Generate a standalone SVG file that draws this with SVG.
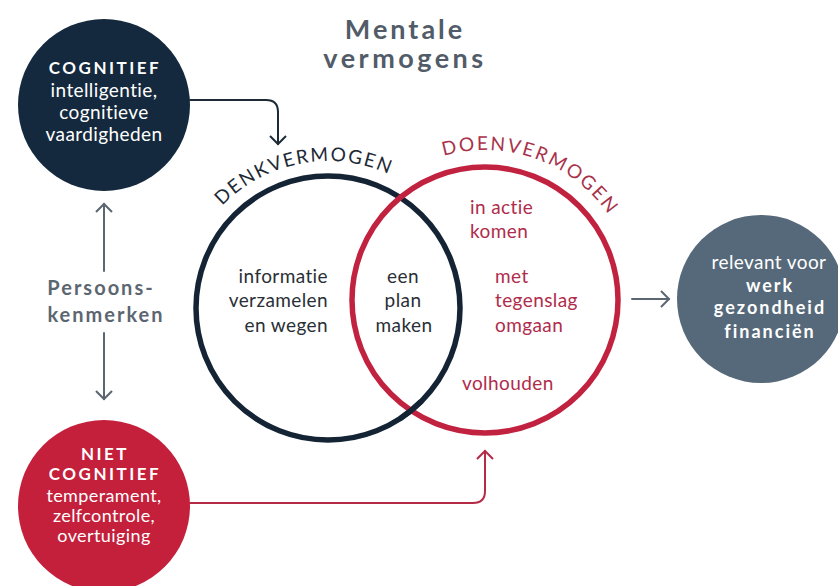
<svg xmlns="http://www.w3.org/2000/svg" width="838" height="586" viewBox="0 0 838 586">
<style>
.body{font-family:Lato,"Open Sans","Liberation Sans",sans-serif;font-size:19px;letter-spacing:0.4px}
.small{font-size:18px}
.head{font-family:Lato,"Open Sans","Liberation Sans",sans-serif;font-weight:bold;font-size:17px;letter-spacing:2.5px}
.white{fill:#ffffff}
.dark{fill:#2a2f37}
.red{fill:#b02c4c}
.arc{font-family:Lato,"Open Sans","Liberation Sans",sans-serif;font-size:19px}
.conn{fill:none;stroke-width:2;stroke-linecap:round;stroke-linejoin:round}
.big{font-family:Lato,"Open Sans","Liberation Sans",sans-serif;font-weight:bold}
</style>
<defs>
<marker id="aDark" viewBox="0 0 12 18" refX="10" refY="9" markerWidth="12" markerHeight="18" markerUnits="userSpaceOnUse" orient="auto">
<path d="M2,1 L10,9 L2,17" fill="none" stroke="#1e2a36" stroke-width="2"/>
</marker>
<marker id="aGray" viewBox="0 0 12 18" refX="10" refY="9" markerWidth="12" markerHeight="18" markerUnits="userSpaceOnUse" orient="auto">
<path d="M2,1 L10,9 L2,17" fill="none" stroke="#5c6670" stroke-width="2"/>
</marker>
<marker id="aRed" viewBox="0 0 12 18" refX="10" refY="9" markerWidth="12" markerHeight="18" markerUnits="userSpaceOnUse" orient="auto">
<path d="M2,1 L10,9 L2,17" fill="none" stroke="#b52a45" stroke-width="2"/>
</marker>
<path id="denkArc" d="M222.3,205.9 A147,147 0 0 1 392.4,175.9"/>
<path id="doenArc" d="M443.7,155.8 A150,150 0 0 1 610.8,218.3"/>
</defs>
<rect width="838" height="586" fill="#ffffff"/>

<g id="title">
<text class="big" x="405" y="39" text-anchor="middle" font-size="27" letter-spacing="3" fill="#515c68">Mentale</text>
<text class="big" x="405" y="68" text-anchor="middle" font-size="27" letter-spacing="3.5" fill="#515c68">vermogens</text>
</g>

<g id="connectors">
<path class="conn" stroke="#1e2a36" d="M190,100 H266 Q278,100 278,112 V144" marker-end="url(#aDark)"/>
<path class="conn" stroke="#5c6670" d="M104,271 V204" marker-end="url(#aGray)"/>
<path class="conn" stroke="#5c6670" d="M104,333 V399" marker-end="url(#aGray)"/>
<path class="conn" stroke="#b52a45" d="M190,503 H473 Q485,503 485,491 V451" marker-end="url(#aRed)"/>
<path class="conn" stroke="#5c6670" d="M632,299 H669" marker-end="url(#aGray)"/>
</g>

<g id="cognitief">
<circle cx="104" cy="105" r="86" fill="#14293d"/>
<text class="head white" x="105" y="74" text-anchor="middle">COGNITIEF</text>
<text class="body white" x="104" y="97" text-anchor="middle">intelligentie,</text>
<text class="body white" x="104" y="119" text-anchor="middle">cognitieve</text>
<text class="body white" x="104" y="141" text-anchor="middle">vaardigheden</text>
</g>

<g id="persoonskenmerken">
<text class="big" x="101" y="295" text-anchor="middle" font-size="20" letter-spacing="2" fill="#5c6670">Persoons-</text>
<text class="big" x="106" y="322" text-anchor="middle" font-size="20" letter-spacing="2" fill="#5c6670">kenmerken</text>
</g>

<g id="niet-cognitief">
<circle cx="104" cy="506" r="86" fill="#c41f3b"/>
<text class="head white" x="105" y="460" text-anchor="middle">NIET</text>
<text class="head white" x="105" y="480" text-anchor="middle">COGNITIEF</text>
<text class="body small white" x="104" y="502" text-anchor="middle">temperament,</text>
<text class="body small white" x="104" y="522" text-anchor="middle">zelfcontrole,</text>
<text class="body small white" x="104" y="542" text-anchor="middle">overtuiging</text>
</g>

<g id="denkvermogen">
<circle cx="328" cy="308" r="132" fill="none" stroke="#142435" stroke-width="5.5"/>
<text class="arc" fill="#1e2a36"><textPath href="#denkArc" textLength="180" lengthAdjust="spacing">DENKVERMOGEN</textPath></text>
<text class="body dark" x="328" y="283" text-anchor="end">informatie</text>
<text class="body dark" x="328" y="307" text-anchor="end">verzamelen</text>
<text class="body dark" x="328" y="332" text-anchor="end">en wegen</text>
</g>

<g id="doenvermogen">
<circle cx="485" cy="300" r="133" fill="none" stroke="#c0223f" stroke-width="5.5"/>
<text class="arc" fill="#a8324a"><textPath href="#doenArc" textLength="186" lengthAdjust="spacing">DOENVERMOGEN</textPath></text>
<text class="body red" x="470" y="214">in actie</text>
<text class="body red" x="470" y="238">komen</text>
<text class="body red" x="495" y="283">met</text>
<text class="body red" x="495" y="307">tegenslag</text>
<text class="body red" x="495" y="332">omgaan</text>
<text class="body red" x="462" y="390">volhouden</text>
</g>

<g id="overlap">
<path d="M421.3,401.3 A132,132 0 0 1 399.9,418.7" fill="none" stroke="#142435" stroke-width="5.5"/>
<text class="body dark" x="403" y="283" text-anchor="middle">een</text>
<text class="body dark" x="403" y="307" text-anchor="middle">plan</text>
<text class="body dark" x="404" y="332" text-anchor="middle">maken</text>
</g>

<g id="relevant">
<circle cx="761" cy="299" r="84" fill="#56697a"/>
<text class="body white" x="769" y="269" text-anchor="middle">relevant voor</text>
<text class="big" x="770" y="292" text-anchor="middle" font-size="18" letter-spacing="2" fill="#ffffff">werk</text>
<text class="big" x="770" y="314" text-anchor="middle" font-size="18" letter-spacing="2" fill="#ffffff">gezondheid</text>
<text class="big" x="770" y="338" text-anchor="middle" font-size="18" letter-spacing="2" fill="#ffffff">financiën</text>
</g>
</svg>
